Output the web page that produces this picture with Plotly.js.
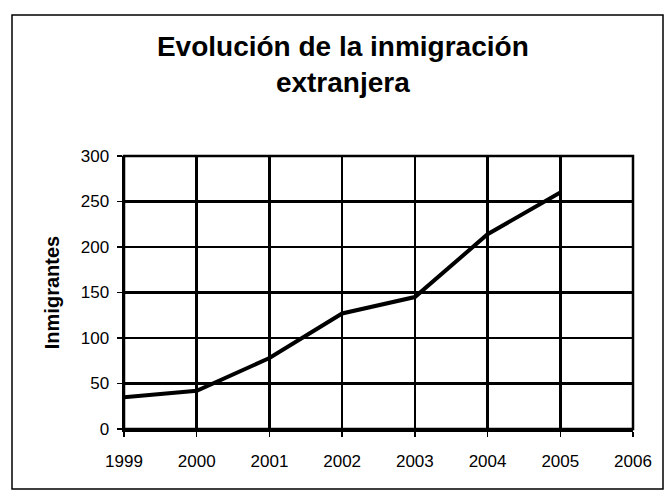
<!DOCTYPE html>
<html>
<head>
<meta charset="utf-8">
<script src="https://cdn.plot.ly/plotly-3.0.1.min.js"></script>
<style>
html,body{margin:0;padding:0;background:#fff;}
#chart{width:667px;height:491px;}
</style>
</head>
<body>
<div id="chart"></div>
<script>
const years = [1999, 2000, 2001, 2002, 2003, 2004, 2005];
const inmigrantes = [35, 42, 78, 127, 145, 214, 260];
const xTicks = [1999, 2000, 2001, 2002, 2003, 2004, 2005, 2006];
const yTicks = [0, 50, 100, 150, 200, 250, 300];

const ml = 124, mr = 34, mt = 156, mb = 62;
const pw = 667 - ml - mr, ph = 491 - mt - mb;
const px = v => (v - ml) / pw;
const py = v => (491 - mb - v) / ph;

const trace = {
  x: years, y: inmigrantes, type: 'scatter', mode: 'lines',
  line: {color: '#000', width: 4}, hoverinfo: 'skip', showlegend: false
};

const layout = {
  width: 667, height: 491,
  margin: {l: ml, r: mr, t: mt, b: mb},
  paper_bgcolor: '#fff', plot_bgcolor: '#fff',
  font: {family: 'Liberation Sans, Arial, sans-serif', color: '#000', size: 17},
  title: {
    text: '<b>Evolución de la inmigración<br>extranjera</b>',
    font: {size: 28, family: 'Liberation Sans, Arial, sans-serif', color: '#000'},
    x: 0.514, xref: 'container', xanchor: 'center',
    y: 0.886, yref: 'container', yanchor: 'middle'
  },
  xaxis: {
    range: [1999, 2006], tickvals: xTicks, ticktext: xTicks.map(String),
    showgrid: true, gridcolor: '#000', gridwidth: 2.5,
    showline: true, linecolor: '#000', linewidth: 2.5,
    ticks: 'outside', ticklen: 5, tickcolor: '#000', tickwidth: 1.5,
    ticklabelstandoff: 10,
    zeroline: false, fixedrange: true
  },
  yaxis: {
    range: [0, 300], tickvals: yTicks,
    showgrid: true, gridcolor: '#000', gridwidth: 2.5,
    showline: true, linecolor: '#000', linewidth: 2.5,
    ticks: 'outside', ticklen: 5, tickcolor: '#000', tickwidth: 1.5,
    ticklabelstandoff: 4,
    zeroline: false, fixedrange: true,
    title: {text: '<b>Inmigrantes</b>', font: {size: 20, color: '#000'}, standoff: 16}
  },
  shapes: [
    {type: 'rect', xref: 'paper', yref: 'paper',
     x0: px(12), x1: px(663), y0: py(489), y1: py(15),
     line: {color: '#000', width: 1.5}, fillcolor: 'rgba(0,0,0,0)', layer: 'below'},
    {type: 'rect', xref: 'paper', yref: 'paper',
     x0: 0, x1: 1, y0: 0, y1: 1,
     line: {color: '#000', width: 2.5}, fillcolor: 'rgba(0,0,0,0)', layer: 'above'}
  ]
};

Plotly.newPlot('chart', [trace], layout, {staticPlot: true, displayModeBar: false});
</script>
</body>
</html>
